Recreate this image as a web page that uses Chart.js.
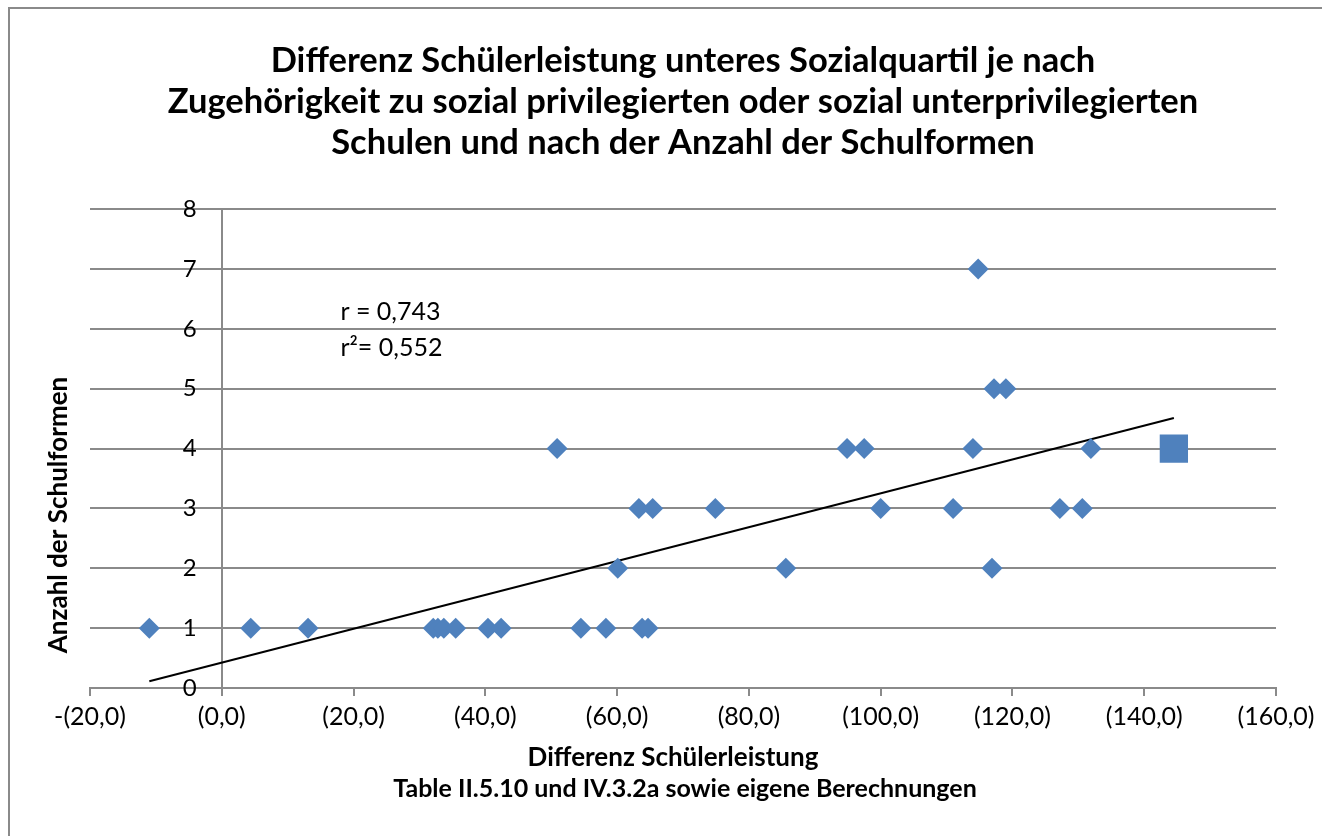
<!DOCTYPE html>
<html>
<head>
<meta charset="utf-8">
<script src="https://cdn.jsdelivr.net/npm/chart.js@4"></script>
<style>
  html, body { margin: 0; padding: 0; background: #fff; }
  #wrap { position: relative; width: 1322px; height: 836px; }
  #rahmen { position: absolute; left: 8px; top: 7px; right: 0; bottom: 0;
            border-top: 2px solid #8a8a8a; border-left: 2px solid #8a8a8a; }
  canvas { position: absolute; left: 0; top: 0; }
</style>
</head>
<body>
<div id="wrap">
  <div id="rahmen"></div>
  <canvas id="grafico" width="1322" height="836"></canvas>
</div>
<script>
// Differenz Schülerleistung (x) und Anzahl der Schulformen (y)
const differenz = [-11.0, 4.4, 13.1, 32.1, 32.8, 33.7, 35.5, 40.4, 42.4, 50.9, 54.5, 58.3,
  60.1, 63.3, 63.8, 64.7, 65.4, 74.9, 85.6, 94.9, 97.5, 100.0, 111.0, 114.0,
  114.8, 116.9, 117.2, 119.0, 127.2, 130.6, 131.9];
const schulformen = [1, 1, 1, 1, 1, 1, 1, 1, 1, 4, 1, 1,
  2, 3, 1, 1, 3, 3, 2, 4, 4, 3, 3, 4,
  7, 2, 5, 5, 3, 3, 4];

// Deutschland (großes Quadrat)
const deutschlandX = [144.5];
const deutschlandY = [4];

const titelZeilen = [
  'Differenz Schülerleistung unteres Sozialquartil je nach',
  'Zugehörigkeit zu sozial privilegierten oder sozial unterprivilegierten',
  'Schulen und nach der Anzahl der Schulformen'
];
const achseX = 'Differenz Schülerleistung';
const achseY = 'Anzahl der Schulformen';
const quelle = 'Table II.5.10 und IV.3.2a sowie eigene Berechnungen';
const korrelation = ['r = 0,743', 'r²= 0,552'];

const xTicks = [-20, 0, 20, 40, 60, 80, 100, 120, 140, 160];
const yTicks = [0, 1, 2, 3, 4, 5, 6, 7, 8];

const fonte = 'Lato';
const blau = '#4F81BD';

// Punkte zusammenbauen
const punkte = differenz.map((x, i) => ({ x: x, y: schulformen[i] }));
const punkteDE = deutschlandX.map((x, i) => ({ x: x, y: deutschlandY[i] }));

// lineare Trendlinie über alle Punkte
const alle = punkte.concat(punkteDE);
const n = alle.length;
const mx = alle.reduce((s, p) => s + p.x, 0) / n;
const my = alle.reduce((s, p) => s + p.y, 0) / n;
let sxy = 0, sxx = 0;
alle.forEach(p => { sxy += (p.x - mx) * (p.y - my); sxx += (p.x - mx) * (p.x - mx); });
const steigung = sxy / sxx;
const achsenabschnitt = my - steigung * mx;
const xmin = Math.min(...alle.map(p => p.x));
const xmax = Math.max(...alle.map(p => p.x));
const trend = [
  { x: xmin, y: achsenabschnitt + steigung * xmin },
  { x: xmax, y: achsenabschnitt + steigung * xmax }
];

function formatX(v) {
  return v < 0 ? '-(' + Math.abs(v) + ',0)' : '(' + v + ',0)';
}

// Texte, die nicht zentriert zur Zeichenfläche liegen, und die y-Beschriftung
const textePlugin = {
  id: 'texte',
  afterDraw(chart) {
    const ctx = chart.ctx;
    const sx = chart.scales.x, sy = chart.scales.y;
    ctx.save();
    ctx.fillStyle = '#000';
    ctx.textBaseline = 'middle';

    // y-Achse: Zahlen links der Achse bei x = 0
    ctx.font = '24px ' + fonte;
    ctx.textAlign = 'right';
    const yAchse = sx.getPixelForValue(0);
    yTicks.forEach(v => {
      ctx.fillText(String(v), yAchse - 25, sy.getPixelForValue(v));
    });

    // r und r²
    ctx.font = '25px ' + fonte;
    ctx.textAlign = 'left';
    ctx.fillText(korrelation[0], sx.getPixelForValue(18), sy.getPixelForValue(6.28));
    ctx.fillText(korrelation[1], sx.getPixelForValue(18), sy.getPixelForValue(5.68));

    // Achsentitel
    ctx.font = 'bold 26px ' + fonte;
    ctx.textAlign = 'center';
    ctx.fillText(achseX, 673, 758);
    ctx.font = 'bold 25px ' + fonte;
    ctx.fillText(quelle, 685, 789);

    ctx.font = 'bold 26px ' + fonte;
    ctx.translate(59, 515);
    ctx.rotate(-Math.PI / 2);
    ctx.fillText(achseY, 0, 0);
    ctx.restore();
  }
};

const ctx = document.getElementById('grafico').getContext('2d');
const grafico = new Chart(ctx, {
  type: 'scatter',
  data: {
    datasets: [
      {
        label: 'Trend',
        type: 'line',
        data: trend,
        borderColor: '#000',
        borderWidth: 2,
        pointRadius: 0,
        fill: false,
        order: 2
      },
      {
        label: 'Staaten',
        data: punkte,
        pointStyle: 'rectRot',
        pointRadius: 10.5,
        pointHoverRadius: 10.5,
        backgroundColor: blau,
        borderColor: blau,
        borderWidth: 0,
        order: 1
      },
      {
        label: 'Deutschland',
        data: punkteDE,
        pointStyle: 'rect',
        pointRadius: 20,
        pointHoverRadius: 20,
        backgroundColor: blau,
        borderColor: blau,
        borderWidth: 0,
        order: 1
      }
    ]
  },
  options: {
    responsive: false,
    animation: false,
    layout: { padding: { left: 90, right: 46, top: 0, bottom: 0 } },
    plugins: {
      legend: { display: false },
      tooltip: { enabled: false },
      title: {
        display: true,
        text: titelZeilen,
        color: '#000',
        font: { family: fonte, size: 34.5, weight: 'bold', lineHeight: 1.18 },
        padding: { top: 41, bottom: 46 }
      }
    },
    scales: {
      x: {
        type: 'linear',
        min: -20,
        max: 160,
        afterBuildTicks(scale) { scale.ticks = xTicks.map(v => ({ value: v })); },
        afterFit(scale) { scale.height = 148; },
        border: { display: true, color: '#8a8a8a', width: 2 },
        grid: { drawOnChartArea: false, tickLength: 8, color: '#8a8a8a', lineWidth: 2 },
        ticks: {
          callback: v => formatX(v),
          color: '#000',
          padding: 6,
          maxRotation: 0,
          font: { family: fonte, size: 25 }
        }
      },
      y: {
        type: 'linear',
        position: { x: 0 },
        min: 0,
        max: 8,
        afterBuildTicks(scale) { scale.ticks = yTicks.map(v => ({ value: v })); },
        border: { display: true, color: '#8a8a8a', width: 2 },
        grid: { drawOnChartArea: true, tickLength: 8, color: '#8a8a8a', lineWidth: 2 },
        ticks: { display: false }
      }
    }
  },
  plugins: [textePlugin]
});
</script>
</body>
</html>
